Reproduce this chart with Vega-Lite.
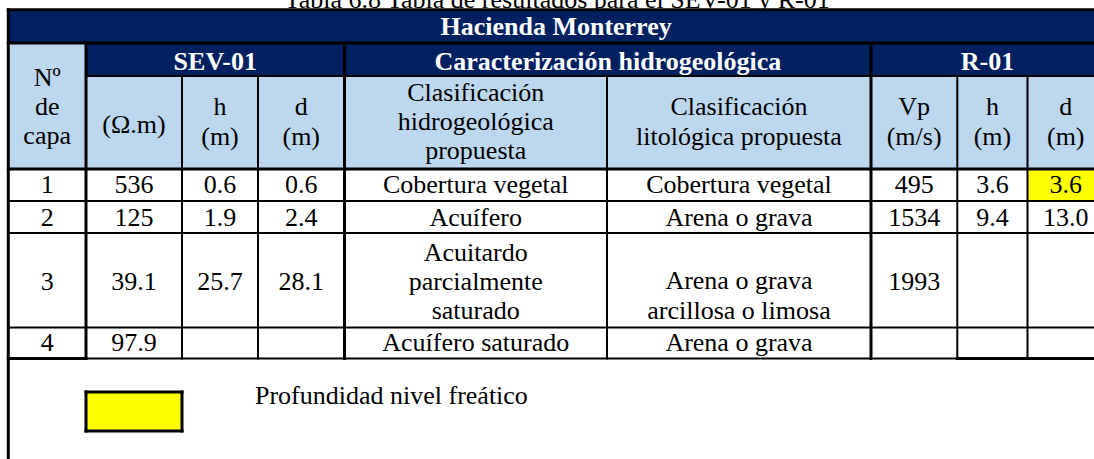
{
  "$schema": "https://vega.github.io/schema/vega-lite/v6.json",
  "width": 1094,
  "height": 459,
  "padding": 0,
  "autosize": {"type": "none"},
  "background": "white",
  "config": {"view": {"stroke": null}},
  "datasets": {
    "caption": [
      {"x": 4.81, "y": -0.3, "t": "Tabla 6.8 Tabla de resultados para el SEV-01 y R-01"}
    ],
    "fills": [
      {"x": 0, "x2": 9, "y": 0, "y2": 1, "k": "band"},
      {"x": 0, "x2": 1, "y": 1, "y2": 3, "k": "head"},
      {"x": 1, "x2": 4, "y": 1, "y2": 2, "k": "band"},
      {"x": 4, "x2": 6, "y": 1, "y2": 2, "k": "band"},
      {"x": 6, "x2": 9, "y": 1, "y2": 2, "k": "band"},
      {"x": 1, "x2": 9, "y": 2, "y2": 3, "k": "head"},
      {"x": 8, "x2": 9, "y": 3, "y2": 4, "k": "water"},
      {"x": 1, "x2": 2, "y": 8, "y2": 9, "k": "water"}
    ],
    "lines": [
      {"x": 0, "x2": 9, "y": 0, "y2": 0, "w": "thick"},
      {"x": 0, "x2": 9, "y": 1, "y2": 1, "w": "thick"},
      {"x": 1, "x2": 9, "y": 2, "y2": 2, "w": "thin"},
      {"x": 0, "x2": 9, "y": 3, "y2": 3, "w": "thick"},
      {"x": 0, "x2": 9, "y": 4, "y2": 4, "w": "thin"},
      {"x": 0, "x2": 9, "y": 5, "y2": 5, "w": "thin"},
      {"x": 0, "x2": 9, "y": 6, "y2": 6, "w": "thin"},
      {"x": 0, "x2": 1, "y": 7, "y2": 7, "w": "thick"},
      {"x": 1, "x2": 7, "y": 7, "y2": 7, "w": "thin"},
      {"x": 7, "x2": 9, "y": 7, "y2": 7, "w": "thick"},
      {"x": 0, "x2": 0, "y": 0, "y2": 10, "w": "thick"},
      {"x": 1, "x2": 1, "y": 1, "y2": 7, "w": "thick"},
      {"x": 2, "x2": 2, "y": 2, "y2": 7, "w": "thin"},
      {"x": 3, "x2": 3, "y": 2, "y2": 7, "w": "thin"},
      {"x": 4, "x2": 4, "y": 1, "y2": 7, "w": "thick"},
      {"x": 5, "x2": 5, "y": 2, "y2": 7, "w": "thin"},
      {"x": 6, "x2": 6, "y": 1, "y2": 7, "w": "thick"},
      {"x": 7, "x2": 7, "y": 2, "y2": 7, "w": "thin"},
      {"x": 8, "x2": 8, "y": 2, "y2": 7, "w": "thin"},
      {"x": 1, "x2": 2, "y": 8, "y2": 8, "w": "thick"},
      {"x": 1, "x2": 2, "y": 9, "y2": 9, "w": "thick"},
      {"x": 1, "x2": 1, "y": 8, "y2": 9, "w": "thick"},
      {"x": 2, "x2": 2, "y": 8, "y2": 9, "w": "thick"}
    ],
    "titles": [
      {"x": 4.806, "y": 0.525, "t": "Hacienda Monterrey"},
      {"x": 2.4375, "y": 1.58, "t": "SEV-01"},
      {"x": 5.003, "y": 1.58, "t": "Caracterización hidrogeológica"},
      {"x": 7.43, "y": 1.58, "t": "R-01"}
    ],
    "cells": [
      {"x": 0.5, "y": 2.018, "t": "Nº\nde\ncapa"},
      {"x": 1.5, "y": 2.53, "t": "(Ω.m)"},
      {"x": 2.5, "y": 2.337, "t": "h\n(m)"},
      {"x": 3.5, "y": 2.337, "t": "d\n(m)"},
      {"x": 4.5, "y": 2.18, "t": "Clasificación\nhidrogeológica\npropuesta"},
      {"x": 5.5, "y": 2.337, "t": "Clasificación\nlitológica propuesta"},
      {"x": 6.5, "y": 2.337, "t": "Vp\n(m/s)"},
      {"x": 7.5, "y": 2.337, "t": "h\n(m)"},
      {"x": 8.5, "y": 2.337, "t": "d\n(m)"},
      {"x": 0.5, "y": 3.5, "t": "1"},
      {"x": 1.5, "y": 3.5, "t": "536"},
      {"x": 2.5, "y": 3.5, "t": "0.6"},
      {"x": 3.5, "y": 3.5, "t": "0.6"},
      {"x": 4.5, "y": 3.5, "t": "Cobertura vegetal"},
      {"x": 5.5, "y": 3.5, "t": "Cobertura vegetal"},
      {"x": 6.5, "y": 3.5, "t": "495"},
      {"x": 7.5, "y": 3.5, "t": "3.6"},
      {"x": 8.5, "y": 3.5, "t": "3.6"},
      {"x": 0.5, "y": 4.53, "t": "2"},
      {"x": 1.5, "y": 4.53, "t": "125"},
      {"x": 2.5, "y": 4.53, "t": "1.9"},
      {"x": 3.5, "y": 4.53, "t": "2.4"},
      {"x": 4.5, "y": 4.53, "t": "Acuífero"},
      {"x": 5.5, "y": 4.53, "t": "Arena o grava"},
      {"x": 6.5, "y": 4.53, "t": "1534"},
      {"x": 7.5, "y": 4.53, "t": "9.4"},
      {"x": 8.5, "y": 4.53, "t": "13.0"},
      {"x": 0.5, "y": 5.52, "t": "3"},
      {"x": 1.5, "y": 5.52, "t": "39.1"},
      {"x": 2.5, "y": 5.52, "t": "25.7"},
      {"x": 3.5, "y": 5.52, "t": "28.1"},
      {"x": 4.5, "y": 5.208, "t": "Acuitardo\nparcialmente\nsaturado"},
      {"x": 5.5, "y": 5.512, "t": "Arena o grava\narcillosa o limosa"},
      {"x": 6.5, "y": 5.52, "t": "1993"},
      {"x": 0.5, "y": 6.5, "t": "4"},
      {"x": 1.5, "y": 6.5, "t": "97.9"},
      {"x": 4.5, "y": 6.5, "t": "Acuífero saturado"},
      {"x": 5.5, "y": 6.5, "t": "Arena o grava"}
    ],
    "legend": [
      {"x": 2.96, "y": 8.09, "t": "Profundidad nivel freático"}
    ]
  },
  "encoding": {
    "x": {
      "field": "x",
      "type": "quantitative",
      "scale": {
        "domain": [0, 1, 2, 3, 4, 5, 6, 7, 8, 9],
        "range": [8.3, 86, 182, 258, 344.5, 607, 871, 957.3, 1027.5, 1104],
        "zero": false,
        "nice": false
      },
      "axis": null
    },
    "y": {
      "field": "y",
      "type": "quantitative",
      "scale": {
        "domain": [0, 1, 2, 3, 4, 5, 6, 7, 8, 9, 10],
        "range": [9.7, 43, 76, 169, 201, 233, 327.5, 358.5, 392, 431, 459],
        "zero": false,
        "nice": false
      },
      "axis": null
    }
  },
  "layer": [
    {
      "data": {"name": "caption"},
      "mark": {"type": "text", "font": "Liberation Serif", "fontSize": 26, "color": "black", "baseline": "middle", "align": "center"},
      "encoding": {"text": {"field": "t"}}
    },
    {
      "data": {"name": "fills"},
      "mark": {"type": "rect", "opacity": 1, "strokeWidth": 0},
      "encoding": {
        "x2": {"field": "x2"},
        "y2": {"field": "y2"},
        "color": {
          "field": "k",
          "type": "nominal",
          "scale": {"domain": ["band", "head", "water"], "range": ["#002060", "#BDD7EE", "#FFFF00"]},
          "legend": null
        }
      }
    },
    {
      "data": {"name": "lines"},
      "mark": {"type": "rule", "color": "black", "strokeCap": "square"},
      "encoding": {
        "x2": {"field": "x2"},
        "y2": {"field": "y2"},
        "strokeWidth": {
          "field": "w",
          "type": "ordinal",
          "scale": {"domain": ["thick", "thin"], "range": [3, 2]},
          "legend": null
        }
      }
    },
    {
      "data": {"name": "titles"},
      "mark": {"type": "text", "font": "Liberation Serif", "fontSize": 26, "fontWeight": "bold", "color": "white", "baseline": "middle", "align": "center"},
      "encoding": {"text": {"field": "t"}}
    },
    {
      "data": {"name": "cells"},
      "mark": {"type": "text", "font": "Liberation Serif", "fontSize": 26, "color": "black", "baseline": "middle", "align": "center", "lineBreak": "\n", "lineHeight": 29.3},
      "encoding": {"text": {"field": "t"}}
    },
    {
      "data": {"name": "legend"},
      "mark": {"type": "text", "font": "Liberation Serif", "fontSize": 26, "color": "black", "baseline": "middle", "align": "left"},
      "encoding": {"text": {"field": "t"}}
    }
  ]
}
